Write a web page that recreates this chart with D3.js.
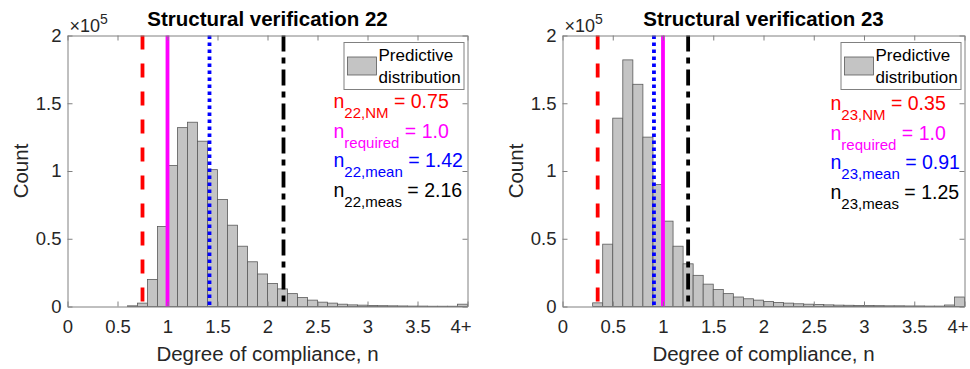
<!DOCTYPE html>
<html>
<head>
<meta charset="utf-8">
<script src="https://cdn.jsdelivr.net/npm/d3@7/dist/d3.min.js"></script>
<style>
  body { margin: 0; background: #fff; }
  svg { font-family: Arial, "Liberation Sans", sans-serif; }
</style>
</head>
<body>
<svg id="chart" width="970" height="369"></svg>
<script>
// ---- data ----
const binWidth = 0.1;
const xTickValues = [0, 0.5, 1, 1.5, 2, 2.5, 3, 3.5, 4];
const xTickLabels = ["0", "0.5", "1", "1.5", "2", "2.5", "3", "3.5", "4+"];
const yTickValues = [0, 50000, 100000, 150000, 200000];
const yTickLabels = ["0", "0.5", "1", "1.5", "2"];

// structural verification 22, bins start at 0.6, last bin = 4+
const firstBin22 = 0.6;
const counts22 = [500, 2500, 20000, 59000, 104000, 132000, 136000, 122000, 101000, 79000,
  60000, 44500, 33000, 24000, 17000, 13000, 9500, 6600, 4700, 3200,
  2500, 1700, 1200, 1000, 800, 600, 500, 400, 300, 300,
  200, 200, 200, 1700];
const refValues22 = [0.75, 1.0, 1.42, 2.16];

// structural verification 23, bins start at 0.3
const firstBin23 = 0.3;
const counts23 = [2700, 46000, 139000, 182000, 164000, 125000, 90000, 63000, 44500, 31500,
  23000, 16500, 12500, 9500, 7000, 5700, 4700, 3700, 3000, 2500,
  2000, 1700, 1500, 1200, 1000, 900, 800, 700, 600, 500,
  500, 400, 400, 300, 300, 1100, 7000];
const refValues23 = [0.35, 1.0, 0.91, 1.25];

const refNames = ["NM", "required", "mean", "meas"];

// ---- styles ----
const refStyles = [
  { color: "#ff0000", dash: "14,14" },
  { color: "#ff00ff", dash: null },
  { color: "#0000ff", dash: "3.5,3.5" },
  { color: "#000000", dash: "16,6,6,6" }
];

const svg = d3.select("#chart");

function drawPanel(opt) {
  const x = d3.scaleLinear().domain([0, 4]).range([opt.left, opt.right]);
  const y = d3.scaleLinear().domain([0, 200000]).range([opt.bottom, opt.top]);
  const g = svg.append("g");

  // bars
  g.selectAll("rect.bar")
    .data(opt.counts)
    .enter()
    .append("rect")
    .attr("class", "bar")
    .attr("x", (d, i) => x(opt.firstBin + i * binWidth))
    .attr("width", (d, i) => x(opt.firstBin + (i + 1) * binWidth) - x(opt.firstBin + i * binWidth))
    .attr("y", d => y(d))
    .attr("height", d => y(0) - y(d))
    .attr("fill", "#c4c4c4")
    .attr("stroke", "#5a5a5a")
    .attr("stroke-width", 0.8);

  // reference lines
  g.selectAll("line.ref")
    .data(opt.refs)
    .enter()
    .append("line")
    .attr("class", "ref")
    .attr("x1", d => x(d))
    .attr("x2", d => x(d))
    .attr("y1", y(200000))
    .attr("y2", y(0))
    .attr("stroke", (d, i) => refStyles[i].color)
    .attr("stroke-width", 3.8)
    .attr("stroke-dasharray", (d, i) => refStyles[i].dash);

  // axes (ticks pointing inward, MATLAB style)
  const axisColor = "#808080";
  const bottomAxis = g.append("g")
    .attr("transform", "translate(0," + opt.bottom + ")")
    .call(d3.axisBottom(x).tickValues(xTickValues)
      .tickFormat((d, i) => xTickLabels[i])
      .tickSizeInner(-5).tickSizeOuter(0).tickPadding(13));
  bottomAxis.selectAll("text").filter((d, i) => i === xTickLabels.length - 1).attr("dx", -7);

  const leftAxis = g.append("g")
    .attr("transform", "translate(" + opt.left + ",0)")
    .call(d3.axisLeft(y).tickValues(yTickValues)
      .tickFormat((d, i) => yTickLabels[i])
      .tickSizeInner(-5).tickSizeOuter(0).tickPadding(6));

  const topAxis = g.append("g")
    .attr("transform", "translate(0," + opt.top + ")")
    .call(d3.axisTop(x).tickValues(xTickValues).tickFormat("")
      .tickSizeInner(-5).tickSizeOuter(0));

  const rightAxis = g.append("g")
    .attr("transform", "translate(" + opt.right + ",0)")
    .call(d3.axisRight(y).tickValues(yTickValues).tickFormat("")
      .tickSizeInner(-5).tickSizeOuter(0));

  [bottomAxis, leftAxis, topAxis, rightAxis].forEach(a => {
    a.select(".domain").attr("stroke", axisColor);
    a.selectAll(".tick line").attr("stroke", axisColor);
    a.selectAll("text").attr("fill", "#262626").attr("font-size", 18.5)
      .attr("font-family", "Arial, 'Liberation Sans', sans-serif");
  });

  // exponent
  const ex = g.append("text")
    .attr("x", opt.left + 2)
    .attr("y", opt.top - 4)
    .attr("fill", "#262626")
    .attr("font-size", 18);
  ex.append("tspan").text("\u00d710");
  ex.append("tspan").attr("dy", -8).attr("font-size", 14).text("5");

  // title
  g.append("text")
    .attr("x", (opt.left + opt.right) / 2)
    .attr("y", 26)
    .attr("text-anchor", "middle")
    .attr("font-weight", "bold")
    .attr("font-size", 20.5)
    .attr("fill", "#000")
    .text(opt.title);

  // axis labels
  g.append("text")
    .attr("x", (opt.left + opt.right) / 2)
    .attr("y", 361)
    .attr("text-anchor", "middle")
    .attr("font-size", 20.5)
    .attr("fill", "#262626")
    .text("Degree of compliance, n");

  g.append("text")
    .attr("transform", "translate(" + (opt.left - 40) + "," + ((opt.top + opt.bottom) / 2) + ") rotate(-90)")
    .attr("text-anchor", "middle")
    .attr("font-size", 20.5)
    .attr("fill", "#262626")
    .text("Count");

  // legend
  const lg = g.append("g");
  lg.append("rect")
    .attr("x", opt.right - 123.5).attr("y", 42.5)
    .attr("width", 120).attr("height", 47)
    .attr("fill", "#fff").attr("stroke", "#808080");
  lg.append("rect")
    .attr("x", opt.right - 120).attr("y", 57)
    .attr("width", 29).attr("height", 18)
    .attr("fill", "#c4c4c4").attr("stroke", "#5a5a5a").attr("stroke-width", 0.8);
  lg.append("text").attr("x", opt.right - 89).attr("y", 61)
    .attr("font-size", 17).attr("fill", "#000").text("Predictive");
  lg.append("text").attr("x", opt.right - 89).attr("y", 83)
    .attr("font-size", 17).attr("fill", "#000").text("distribution");

  // annotations
  opt.refs.forEach((v, i) => {
    const sub = refNames[i] === "required" ? "required" : opt.id + "," + refNames[i];
    const val = refNames[i] === "required" ? v.toFixed(1) : String(v);
    const t = g.append("text")
      .attr("x", opt.right - 134)
      .attr("y", opt.annoY + i * 29.7)
      .attr("font-size", 19.5)
      .attr("fill", refStyles[i].color);
    t.append("tspan").text("n");
    t.append("tspan").attr("dy", 10).attr("font-size", 15).text(sub);
    t.append("tspan").attr("dy", -10).text(" = " + val);
  });
}

drawPanel({
  id: "22", title: "Structural verification 22",
  left: 67.5, right: 467.5, top: 35.5, bottom: 306.5,
  counts: counts22, firstBin: firstBin22, refs: refValues22, annoY: 108
});
drawPanel({
  id: "23", title: "Structural verification 23",
  left: 562.5, right: 964.5, top: 35.5, bottom: 306.5,
  counts: counts23, firstBin: firstBin23, refs: refValues23, annoY: 110
});
</script>
</body>
</html>
